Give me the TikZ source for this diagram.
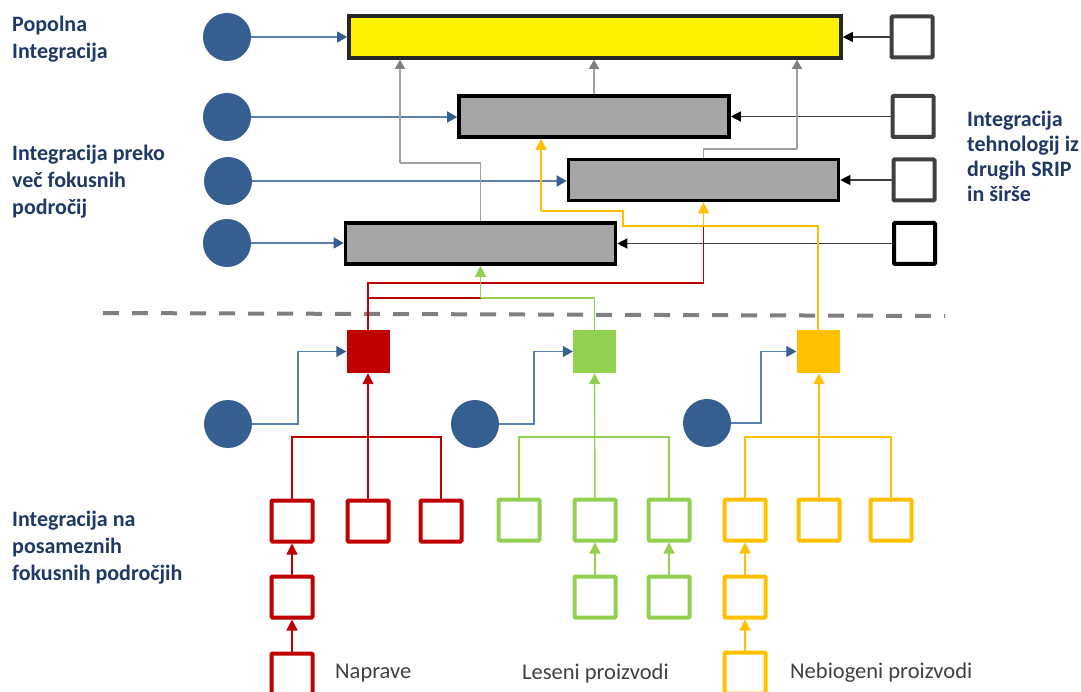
\documentclass[tikz,border=0pt]{standalone}
\usepackage{fontspec}
\setmainfont{Carlito}
\usepackage{xcolor}
\usepackage{tikz}
\usetikzlibrary{arrows.meta}
\definecolor{navy}{HTML}{1F3864}
\definecolor{steel}{HTML}{365F91}
\definecolor{link}{HTML}{5A7FB0}
\definecolor{bargray}{HTML}{A6A6A6}
\definecolor{muted}{HTML}{7F7F7F}
\definecolor{gline}{HTML}{A0A0A0}
\definecolor{redc}{HTML}{C00000}
\definecolor{greenc}{HTML}{92D050}
\definecolor{orangec}{HTML}{FFC000}
\definecolor{dark}{HTML}{404040}
\tikzset{
  bar/.style={draw=black, line width=3.6pt, fill=bargray, inner sep=0pt, minimum width=270pt, minimum height=41pt},
  topbar/.style={bar, draw=black!85, fill=yellow, minimum width=492pt, minimum height=42pt},
  ext/.style={draw=dark, line width=4pt, fill=white, inner sep=0pt, minimum size=41pt, rounded corners=1pt},
  src/.style={circle, fill=steel, inner sep=0pt, minimum size=48pt},
  hub/.style={fill=#1, inner sep=0pt, minimum size=43pt},
  leaf/.style={draw=#1, line width=4pt, fill=white, inner sep=0pt, minimum size=41pt, rounded corners=1pt},
  blu/.style={draw=link, line width=1.3pt, -{Triangle[length=10pt,width=11pt,color=steel]}},
  blk/.style={draw=black!75, line width=1.3pt, -{Triangle[length=10pt,width=10pt,color=black]}},
  gry/.style={draw=gline, line width=1.2pt},
  gryarr/.style={gry, -{Triangle[length=9pt,width=10pt,color=muted]}},
  wire/.style={draw=#1, line width=1.4pt},
  wirearr/.style={wire=#1, -{Triangle[length=11pt,width=11pt]}},
  head/.style={text=navy, font=\bfseries\fontsize{22}{27}\selectfont, align=left, inner sep=0pt, anchor=north west},
  lbl/.style={text=dark, font=\fontsize{22.5}{27}\selectfont, inner sep=0pt, anchor=west}
}

\begin{document}
\begin{tikzpicture}[x=1pt, y=-1pt]
\clip (0,0) rectangle (1081,692);

% labels
\node[head] (hfull) at (12,16) {Popolna\\Integracija};
\node[head] (hcross) at (12,145) {Integracija preko\\več fokusnih\\področij};
\node[head, font=\bfseries\fontsize{22}{25}\selectfont] (hext) at (967,111) {Integracija\\tehnologij iz\\drugih SRIP\\in širše};
\node[head] (hsingle) at (12,511) {Integracija na\\posameznih\\fokusnih področjih};

% bars
\node[topbar] (top) at (595,37) {};
\node[bar] (b1) at (594,116.5) {};
\node[bar] (b2) at (703.5,180) {};
\node[bar] (b3) at (480.5,243.5) {};

% sources left
\node[src] (c1) at (227,37) {};
\node[src] (c2) at (227,117) {};
\node[src] (c3) at (228,181) {};
\node[src] (c4) at (227,243) {};

% external squares right
\node[ext] (s1) at (912,37) {};
\node[ext] (s2) at (913,116.5) {};
\node[ext] (s3) at (914,180) {};
\node[ext, draw=black] (s4) at (914.5,243.5) {};

\draw[blu] (c1) -- (c1 -| top.west);
\draw[blu] (c2) -- (c2 -| b1.west);
\draw[blu] (c3) -- (c3 -| b2.west);
\draw[blu] (c4) -- (c4 -| b3.west);
\draw[blk] (s1) -- (s1 -| top.east);
\draw[blk] (s2) -- (s2 -| b1.east);
\draw[blk] (s3) -- (s3 -| b2.east);
\draw[blk] (s4) -- (s4 -| b3.east);

% bars to top bar
\coordinate (g1) at (400,163);
\coordinate (g2) at (797,149);
\draw[gry] (b3.north) |- (g1);
\draw[gryarr] (g1) -- (g1 |- top.south);
\draw[gryarr] (b1.north) -- (b1.north |- top.south);
\draw[gry] (b2.north) |- (g2);
\draw[gryarr] (g2) -- (g2 |- top.south);

% divider
\draw[muted, line width=4pt, dash pattern=on 16pt off 13pt] (103,313) -- (945,316);

% focus hubs
\node[hub=redc] (rsq) at (368,351.5) {};
\node[hub=greenc] (gsq) at (594.5,351.5) {};
\node[hub=orangec] (osq) at (818,351.5) {};

% hubs to bars
\coordinate (j1) at (480.5,298);
\coordinate (j2) at (703.5,283);
\coordinate (j3) at (703.5,226);
\coordinate (o1) at (623,226);
\coordinate (o2) at (541,211);
\draw[wire=redc] (rsq.north) |- (j2) -- (j3);
\draw[wire=redc] (rsq.north |- j1) -- (j1);
\draw[wire=orangec] (osq.north) |- (o1) |- (o2);
\draw[wirearr=orangec] (o2) -- (o2 |- b1.south);
\draw[wirearr=orangec] (j3) -- (b2.south);
\draw[wire=greenc] (gsq.north) |- (j1);
\draw[wirearr=greenc] (j1) -- (b3.south);

% lower sources
\node[src] (lc1) at (228,424) {};
\node[src] (lc2) at (475,424) {};
\node[src] (lc3) at (707,423) {};
\coordinate (k1) at (298,424);
\coordinate (k2) at (534,424);
\coordinate (k3) at (761,423);
\draw[blu] (lc1) -- (k1) |- (rsq.west);
\draw[blu] (lc2) -- (k2) |- (gsq.west);
\draw[blu] (lc3) -- (k3) |- (osq.west);

% red field
\node[leaf=redc] (r1a) at (292,521) {};
\node[leaf=redc] (r1b) at (368,521) {};
\node[leaf=redc] (r1c) at (441,521) {};
\node[leaf=redc] (r2) at (292,597) {};
\node[leaf=redc] (r3) at (292,674) {};
\coordinate (rt) at (368,437);
\draw[wire=redc] (r1a.north) |- (rt) -| (r1c.north);
\draw[wirearr=redc] (r1b) -- (rsq);
\draw[wirearr=redc] (r3) -- (r2);
\draw[wirearr=redc] (r2) -- (r1a);

% green field
\node[leaf=greenc] (g1a) at (519,520) {};
\node[leaf=greenc] (g1b) at (595,520) {};
\node[leaf=greenc] (g1c) at (669,520) {};
\node[leaf=greenc] (g2b) at (595,597) {};
\node[leaf=greenc] (g2c) at (669,597) {};
\coordinate (gt) at (595,437);
\draw[wire=greenc] (g1a.north) |- (gt) -| (g1c.north);
\draw[wirearr=greenc] (g1b) -- (gsq);
\draw[wirearr=greenc] (g2b) -- (g1b);
\draw[wirearr=greenc] (g2c) -- (g1c);

% orange field
\node[leaf=orangec] (o1a) at (745,520) {};
\node[leaf=orangec] (o1b) at (819,520) {};
\node[leaf=orangec] (o1c) at (891,520) {};
\node[leaf=orangec] (o2b) at (745,597) {};
\node[leaf=orangec] (o3b) at (745,673) {};
\coordinate (ot) at (819,437);
\draw[wire=orangec] (o1a.north) |- (ot) -| (o1c.north);
\draw[wirearr=orangec] (o1b) -- (o1b |- osq.south);
\draw[wirearr=orangec] (o3b) -- (o2b);
\draw[wirearr=orangec] (o2b) -- (o1a);

\node[lbl] (lred) at (335,673) {Naprave};
\node[lbl] (lgreen) at (522,673) {Leseni proizvodi};
\node[lbl] (lorange) at (790,673) {Nebiogeni proizvodi};
\end{tikzpicture}
\end{document}
